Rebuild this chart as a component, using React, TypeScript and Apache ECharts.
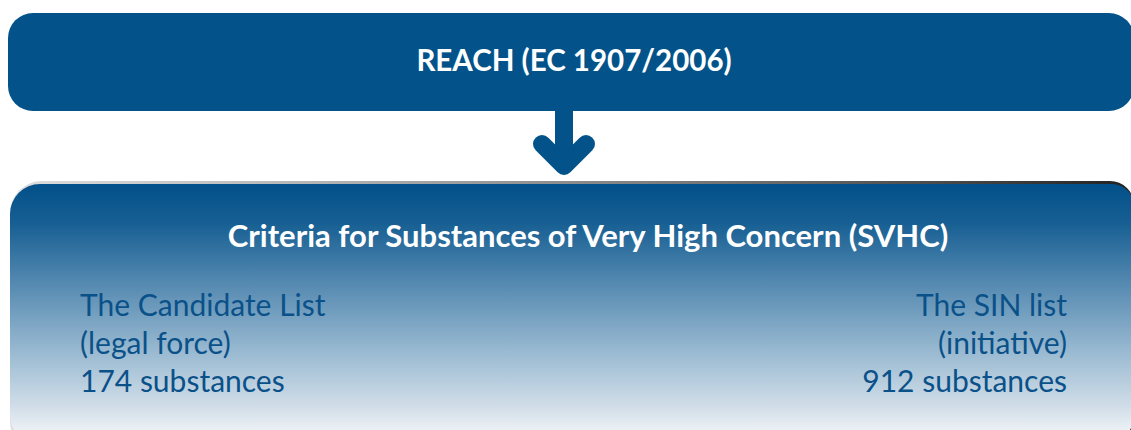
import React, { useEffect, useRef } from "react";
import * as echarts from "echarts";

const headerTitle = "REACH (EC 1907/2006)";
const panelTitle = "Criteria for Substances of Very High Concern (SVHC)";
const listNames = ["The Candidate List", "The SIN list"];
const listStatus = ["(legal force)", "(initiative)"];
const substanceCounts = [174, 912];
const countUnit = "substances";

const W = 1131;
const H = 430;
const DARK = "#03538a";
const TEXT_BLUE = "#0a5189";
const FONT = "Lato, 'Noto Sans', sans-serif";

export default function App() {
  const ref = useRef<HTMLDivElement>(null);
  useEffect(() => {
    document.body.style.margin = "0";
    if (!ref.current) return;
    const chart = echarts.init(ref.current, undefined, { renderer: "svg" });

    const listTexts: any[] = [];
    listNames.forEach((name, i) => {
      const lines = [name, listStatus[i], `${substanceCounts[i]} ${countUnit}`];
      const left = i === 0;
      lines.forEach((line, j) => {
        listTexts.push({
          type: "text",
          x: left ? 80 : 1067,
          y: 304 + j * 38,
          style: {
            text: line,
            fill: TEXT_BLUE,
            font: `400 30px ${FONT}`,
            align: left ? "left" : "right",
            verticalAlign: "middle",
          },
        });
      });
    });

    chart.setOption({
      animation: false,
      graphic: [
        {
          type: "rect",
          shape: { x: 8, y: 13, width: 1126, height: 98, r: 25 },
          style: { fill: DARK },
        },
        {
          type: "text",
          x: 574,
          y: 59,
          style: {
            text: headerTitle,
            fill: "#ffffff",
            font: `700 29.5px ${FONT}`,
            align: "center",
            verticalAlign: "middle",
          },
        },
        {
          type: "rect",
          shape: { x: 555, y: 105, width: 18, height: 60 },
          style: { fill: DARK },
        },
        {
          type: "polyline",
          shape: { points: [[542, 144], [564, 166], [586, 144]] },
          style: { stroke: DARK, lineWidth: 18, lineCap: "round", lineJoin: "round", fill: "none" },
        },
        {
          type: "rect",
          shape: { x: 10, y: 181, width: 1124, height: 270, r: [32, 24, 30, 30] },
          style: {
            fill: new echarts.graphic.LinearGradient(0, 0, 1, 0, [
              { offset: 0, color: "rgba(120,120,120,0.25)" },
              { offset: 0.5, color: "rgba(90,90,90,0.7)" },
              { offset: 1, color: "#222222" },
            ]),
          },
        },
        {
          type: "rect",
          shape: { x: 10, y: 184, width: 1124, height: 261, r: [30, 22, 30, 30] },
          style: {
            fill: new echarts.graphic.LinearGradient(0, 0, 0, 1, [
              { offset: 0, color: "#02508a" },
              { offset: 0.15, color: "#175f93" },
              { offset: 0.4, color: "#5a8db3" },
              { offset: 0.65, color: "#9bbbd2" },
              { offset: 0.85, color: "#d0dde8" },
              { offset: 0.95, color: "#eef2f6" },
              { offset: 1, color: "#f6f8fa" },
            ]),
          },
        },
        {
          type: "text",
          x: 588,
          y: 235,
          style: {
            text: panelTitle,
            fill: "#ffffff",
            font: `700 31px ${FONT}`,
            align: "center",
            verticalAlign: "middle",
          },
        },
        ...listTexts,
      ],
    });
    return () => chart.dispose();
  }, []);
  return <div ref={ref} style={{ width: W, height: H }} />;
}
